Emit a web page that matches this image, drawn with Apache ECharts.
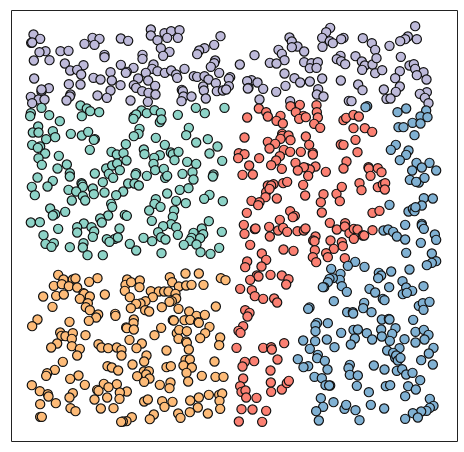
<!DOCTYPE html>
<html><head><meta charset="utf-8">
<style>html,body{margin:0;padding:0;background:#fff}#c{width:464px;height:452px}</style>
<script src="https://cdn.jsdelivr.net/npm/echarts@6/dist/echarts.min.js"></script></head>
<body><div id="c"></div>
<script>
const purple=[[66,1221],[86,1208],[59,1196],[62,1197],[102,1171],[84,1168],[147,1171],[171,1172],[67,1143],[114,1144],[219,1193],[243,1211],[264,1208],[249,1190],[328,1209],[350,1202],[418,1236],[418,1218],[459,1225],[479,1231],[504,1234],[467,1211],[499,1211],[438,1204],[627,1216],[608,1190],[579,1180],[563,1173],[557,1162],[448,1180],[474,1169],[455,1157],[393,1160],[393,1148],[279,1160],[279,1153],[160,1134],[216,1129],[176,1113],[197,1115],[209,1101],[328,1130],[366,1121],[346,1109],[343,1106],[426,1131],[422,1118],[438,1111],[403,1106],[460,1106],[479,1113],[494,1101],[497,1091],[519,1118],[611,1143],[608,1135],[598,1124],[623,1106],[547,1096],[557,1094],[579,1096],[591,1086],[613,1075],[656,1093],[652,1088],[68,1089],[246,1091],[267,1086],[297,1108],[301,1083],[380,1089],[410,1083],[172,1072],[207,1071],[327,1069],[367,1069],[374,1061],[392,1051],[411,1046],[431,1067],[432,1041],[297,1053],[258,1038],[286,1031],[575,1065],[577,1053],[511,1055],[514,1051],[516,1035],[540,1035],[616,1051],[634,1053],[652,1066],[644,1056],[583,1029],[510,1021],[112,1060],[90,1050],[90,1056],[58,1034],[81,1026],[99,1026],[62,1015],[177,1041],[175,1035],[165,1023],[357,1023],[409,1019],
[1211,1246],[956,1241],[944,1228],[834,1212],[841,1200],[932,1211],[955,1201],[964,1195],[996,1211],[989,1207],[1054,1210],[1081,1195],[1189,1215],[1181,1207],[1166,1201],[1216,1207],[1134,1187],[858,1185],[841,1183],[933,1184],[1091,1175],[878,1170],[801,1175],[811,1163],[729,1159],[819,1144],[775,1136],[795,1134],[685,1131],[987,1157],[976,1147],[989,1141],[1001,1132],[1032,1156],[1051,1140],[1060,1128],[1083,1131],[1095,1150],[1168,1154],[878,1138],[900,1135],[919,1138],[895,1120],[915,1121],[1052,1115],[1091,1105],[1112,1114],[1194,1128],[1207,1132],[1211,1118],[1236,1108],[1216,1099],[1245,1086],[1165,1111],[1151,1090],[819,1104],[849,1090],[866,1077],[895,1080],[932,1089],[988,1083],[1040,1071],[1053,1054],[1117,1056],[1165,1065],[1153,1049],[822,1067],[794,1049],[720,1084],[707,1081],[738,1077],[755,1058],[711,1061],[709,1059],[920,1057],[916,1041],[936,1035],[744,1026],[836,1021],[1246,1048],[1225,1043],[1240,1031],[1251,1015],[1125,1028],[1137,1029],[1012,1022],[1020,1021]];
const teal=[[207,1008],[226,999],[236,991],[263,988],[211,976],[90,1001],[58,985],[56,976],[113,979],[145,961],[390,993],[406,985],[429,994],[448,986],[367,975],[374,981],[366,968],[445,958],[450,966],[499,980],[553,1001],[580,985],[639,1001],[80,945],[124,931],[64,927],[81,927],[104,907],[131,913],[178,923],[211,918],[230,929],[250,907],[247,905],[384,938],[381,923],[367,916],[532,941],[524,919],[433,911],[589,907],[62,890],[86,885],[79,881],[101,864],[81,850],[91,830],[142,857],[235,875],[343,892],[460,890],[554,897],[618,885],[594,864],[397,876],[399,862],[300,869],[316,861],[336,865],[345,843],[445,859],[428,851],[426,833],[478,867],[484,862],[501,869],[489,844],[527,839],[554,833],[632,842],[166,831],[138,819],[284,819],[302,828],[317,834],[325,814],[431,814],[457,818],
[78,792],[124,782],[61,764],[108,765],[70,739],[175,805],[175,795],[250,804],[292,803],[305,791],[374,805],[372,800],[406,797],[461,791],[467,797],[513,803],[543,808],[546,786],[606,801],[604,795],[210,775],[212,771],[214,764],[171,755],[194,750],[244,759],[274,778],[350,774],[369,774],[382,768],[335,750],[314,739],[279,747],[247,742],[214,736],[221,723],[181,723],[467,744],[505,755],[531,760],[594,740],[578,728],[634,721],[433,727],[429,713],[447,704],[494,722],[523,715],[413,693],[299,713],[302,704],[116,699],[131,682],[124,678],[161,689],[290,678],[266,669],[271,657],[340,680],[346,677],[488,693],[484,674],[421,662],[592,661],[58,657],[85,658],[479,652],[455,646],[494,643],[217,654],[197,643],[240,643],[248,630],[197,627],[140,638],[324,639],[244,614],[96,619],[440,628],[449,613],[499,620],[462,606],[571,639],[575,622],[546,626],[540,611],[566,610],[535,602],[631,629],[396,611],[422,601],[310,608],[319,612],[286,607],[294,599],[355,593],[216,595],[214,582],[127,595],[102,593],[120,584],[175,583],[517,590],[555,591],[623,581],[374,573],[228,559],[274,559],[450,565],[567,568],[597,563]];
const red=[[742,999],[764,988],[769,975],[707,972],[807,977],[795,962],[814,954],[837,1006],[865,1010],[853,988],[876,977],[863,968],[883,973],[915,1009],[916,988],[919,972],[908,953],[926,941],[699,912],[812,923],[812,917],[831,918],[807,908],[837,904],[883,915],[893,890],[769,899],[791,893],[774,879],[817,875],[836,869],[868,869],[904,866],[904,861],[743,850],[682,865],[699,862],[680,850],[805,856],[794,843],[779,829],[811,818],[713,828],[852,836],[884,821],[912,825],[895,816],[877,823],[996,964],[1004,971],[1026,980],[1042,975],[1026,940],[1060,940],[1082,929],[1032,905],[988,891],[996,890],[1038,868],[1005,840],[996,819],[1071,823],[1072,819],[1099,820],
[693,800],[724,801],[859,813],[890,797],[943,809],[1077,797],[1110,808],[769,768],[786,772],[779,768],[764,748],[774,758],[762,733],[796,729],[815,775],[827,779],[875,770],[881,738],[936,742],[928,718],[975,743],[985,721],[991,764],[1044,775],[1050,754],[1099,763],[1114,771],[1121,775],[1120,756],[720,722],[744,718],[740,709],[706,686],[836,691],[850,677],[844,673],[931,687],[1083,686],[1104,692],[805,665],[697,650],[699,623],[730,637],[732,639],[773,644],[775,615],[800,633],[815,641],[827,629],[858,631],[877,633],[882,639],[955,656],[976,636],[1001,655],[1000,645],[1014,625],[1027,638],[1038,636],[1027,608],[1054,618],[1058,618],[1083,634],[912,615],[905,603],[909,601],[957,603],[991,598],[994,586],[967,578],[944,565],[716,590],[751,564],[816,576],[846,572],[910,574],
[707,540],[701,523],[764,545],[750,525],[904,553],[914,538],[949,553],[1000,550],[736,498],[741,495],[716,485],[777,500],[811,498],[831,487],[824,471],[686,458],[721,454],[730,436],[755,428],[788,429],[797,417],[701,394],[714,386],[708,375],[695,346],[681,332],[687,326],[818,295],
[675,281],[755,281],[779,283],[781,276],[700,239],[693,225],[728,241],[798,246],[777,213],[695,189],[686,166],[690,149],[702,153],[704,132],[735,131],[778,177],[779,149],[811,156],[826,175],[832,182],[690,97],[723,96],[764,92],[682,60],[752,59]];
const blue=[[1067,1006],[1062,1003],[1158,988],[1184,999],[1244,993],[1227,975],[1248,973],[1203,956],[1227,954],[1161,943],[1176,943],[1209,919],[1153,890],[1138,875],[1191,873],[1184,860],[1165,844],[1215,836],[1254,836],[1231,822],
[1202,813],[1274,813],[1195,785],[1222,777],[1239,791],[1214,779],[1134,710],[1237,730],[1264,729],[1231,708],[1191,690],[1204,698],[1209,691],[1212,703],[1181,650],[1231,653],[1231,648],[1237,638],[1116,633],[1130,636],[1145,629],[1156,615],[1181,606],[1270,621],[1274,605],[1228,596],[1184,566],[1261,564],
[1031,539],[1009,527],[1059,524],[959,518],[1274,541],[1261,536],[1246,529],[1194,516],[1139,510],[1102,506],[1109,498],[1100,490],[987,503],[985,485],[964,490],[954,488],[949,478],[938,463],[934,463],[991,466],[1006,449],[1074,458],[1091,447],[1133,463],[1173,481],[1184,462],[1202,452],[1174,442],[1186,446],[1236,466],[967,421],[1114,428],[1119,424],[1058,416],[1055,400],[1080,388],[1222,407],[1234,415],[1254,419],[1236,395],[894,402],[890,398],[1007,388],[1024,388],[1025,384],[1111,366],[1132,368],[1134,366],[1205,365],[917,356],[912,349],[949,355],[912,331],[989,326],[1026,335],[1039,336],[1066,325],[1109,336],[1111,315],[1152,340],[1142,323],[1082,306],[1135,302],[1179,307],[1212,329],[1237,335],[1251,320],[1239,306],[1212,297],[875,303],[911,301],[946,306],[1030,309],[1018,291],
[895,278],[969,283],[1266,281],[1164,280],[1127,273],[1145,266],[859,247],[919,260],[917,250],[940,242],[890,226],[876,223],[948,216],[1252,264],[1229,244],[1264,231],[1151,251],[1154,258],[1159,243],[1167,251],[1015,230],[1011,220],[1087,228],[1119,216],[1156,212],[1172,217],[1184,201],[1203,206],[1015,200],[1039,198],[909,194],[931,190],[942,169],[956,168],[953,168],[1036,167],[1072,148],[1123,166],[1136,169],[1190,166],[1213,156],[1226,184],[1181,136],[928,130],[935,104],[914,91],[966,118],[999,98],[1004,110],[1032,94],[1078,110],[1118,99],[1255,128],[1266,107],[1255,101],[1245,92],[1229,90],[1204,85],[1219,72],[1181,68],[922,63],[1044,64]];
const orange=[[140,500],[156,486],[184,486],[192,489],[258,490],[233,479],[127,467],[151,472],[172,466],[197,462],[95,435],[134,437],[157,441],[216,445],[218,443],[235,435],[205,428],[280,441],[123,404],[229,415],[223,403],[235,394],[260,381],[254,372],[232,362],[311,383],[312,377],[347,486],[342,470],[359,478],[385,483],[384,463],[340,452],[355,433],[475,493],[482,478],[502,465],[522,504],[562,504],[524,468],[540,470],[576,470],[628,490],[642,484],[418,451],[442,450],[458,450],[471,450],[424,433],[492,443],[494,429],[481,421],[474,419],[402,421],[387,414],[374,413],[358,400],[401,394],[413,390],[451,403],[501,398],[613,405],[533,390],[555,377],[580,380],[519,364],[536,365],[560,358],[562,356],[484,364],[487,363],[367,366],[366,355],[344,342],[346,340],[367,336],[449,341],[594,344],[581,325],[566,310],[626,312],[623,289],[496,325],[503,335],[526,331],[501,308],[524,300],[526,296],[429,319],[354,305],[391,294],[78,366],[62,346],[174,359],[146,327],[150,317],[162,316],[184,325],[181,308],[222,319],[137,294],[261,292],
[119,282],[181,286],[205,278],[270,282],[290,280],[316,282],[330,275],[375,280],[465,273],[532,276],[197,258],[330,258],[405,258],[398,240],[154,239],[363,231],[288,226],[301,222],[320,213],[465,223],[478,226],[522,245],[535,246],[516,228],[541,222],[609,240],[130,215],[107,205],[104,197],[201,198],[176,188],[397,210],[412,211],[404,201],[377,196],[414,189],[398,179],[525,206],[571,197],[612,194],[636,194],[530,180],[61,169],[220,170],[277,173],[316,172],[291,163],[445,170],[477,177],[474,160],[85,151],[109,142],[111,135],[184,145],[174,132],[257,155],[261,152],[346,150],[325,147],[324,128],[249,126],[287,132],[133,115],[86,112],[398,120],[409,126],[452,121],[483,119],[459,104],[536,123],[562,132],[592,140],[623,140],[632,144],[624,122],[626,98],[559,102],[535,88],[500,84],[507,71],[589,84],[177,100],[192,91],[268,99],[306,100],[86,74],[91,74],[427,81],[415,67],[361,73],[345,61],[334,60],[329,59]];
const groups=[['purple',purple,'#bebada'],['teal',teal,'#8dd3c7'],['red',red,'#fb8072'],['blue',blue,'#80b1d3'],['orange',orange,'#fdbb78']];
const chart=echarts.init(document.getElementById('c'),null,{renderer:'canvas'});
const hiddenAxis={type:'value',show:false,splitLine:{show:false}};
chart.setOption({
  animation:false,
  backgroundColor:'#fff',
  grid:{show:true,left:11.5,top:10.5,width:446,height:431,borderColor:'#222',borderWidth:1,backgroundColor:'#fff'},
  xAxis:Object.assign({},hiddenAxis,{min:0,max:1338}),
  yAxis:Object.assign({},hiddenAxis,{min:0,max:1293}),
  series:groups.map(g=>({name:g[0],type:'scatter',data:g[1],symbol:'circle',symbolSize:9.2,silent:true,
    itemStyle:{color:g[2],borderColor:'#111',borderWidth:1.2,opacity:1}}))
});
</script></body></html>
